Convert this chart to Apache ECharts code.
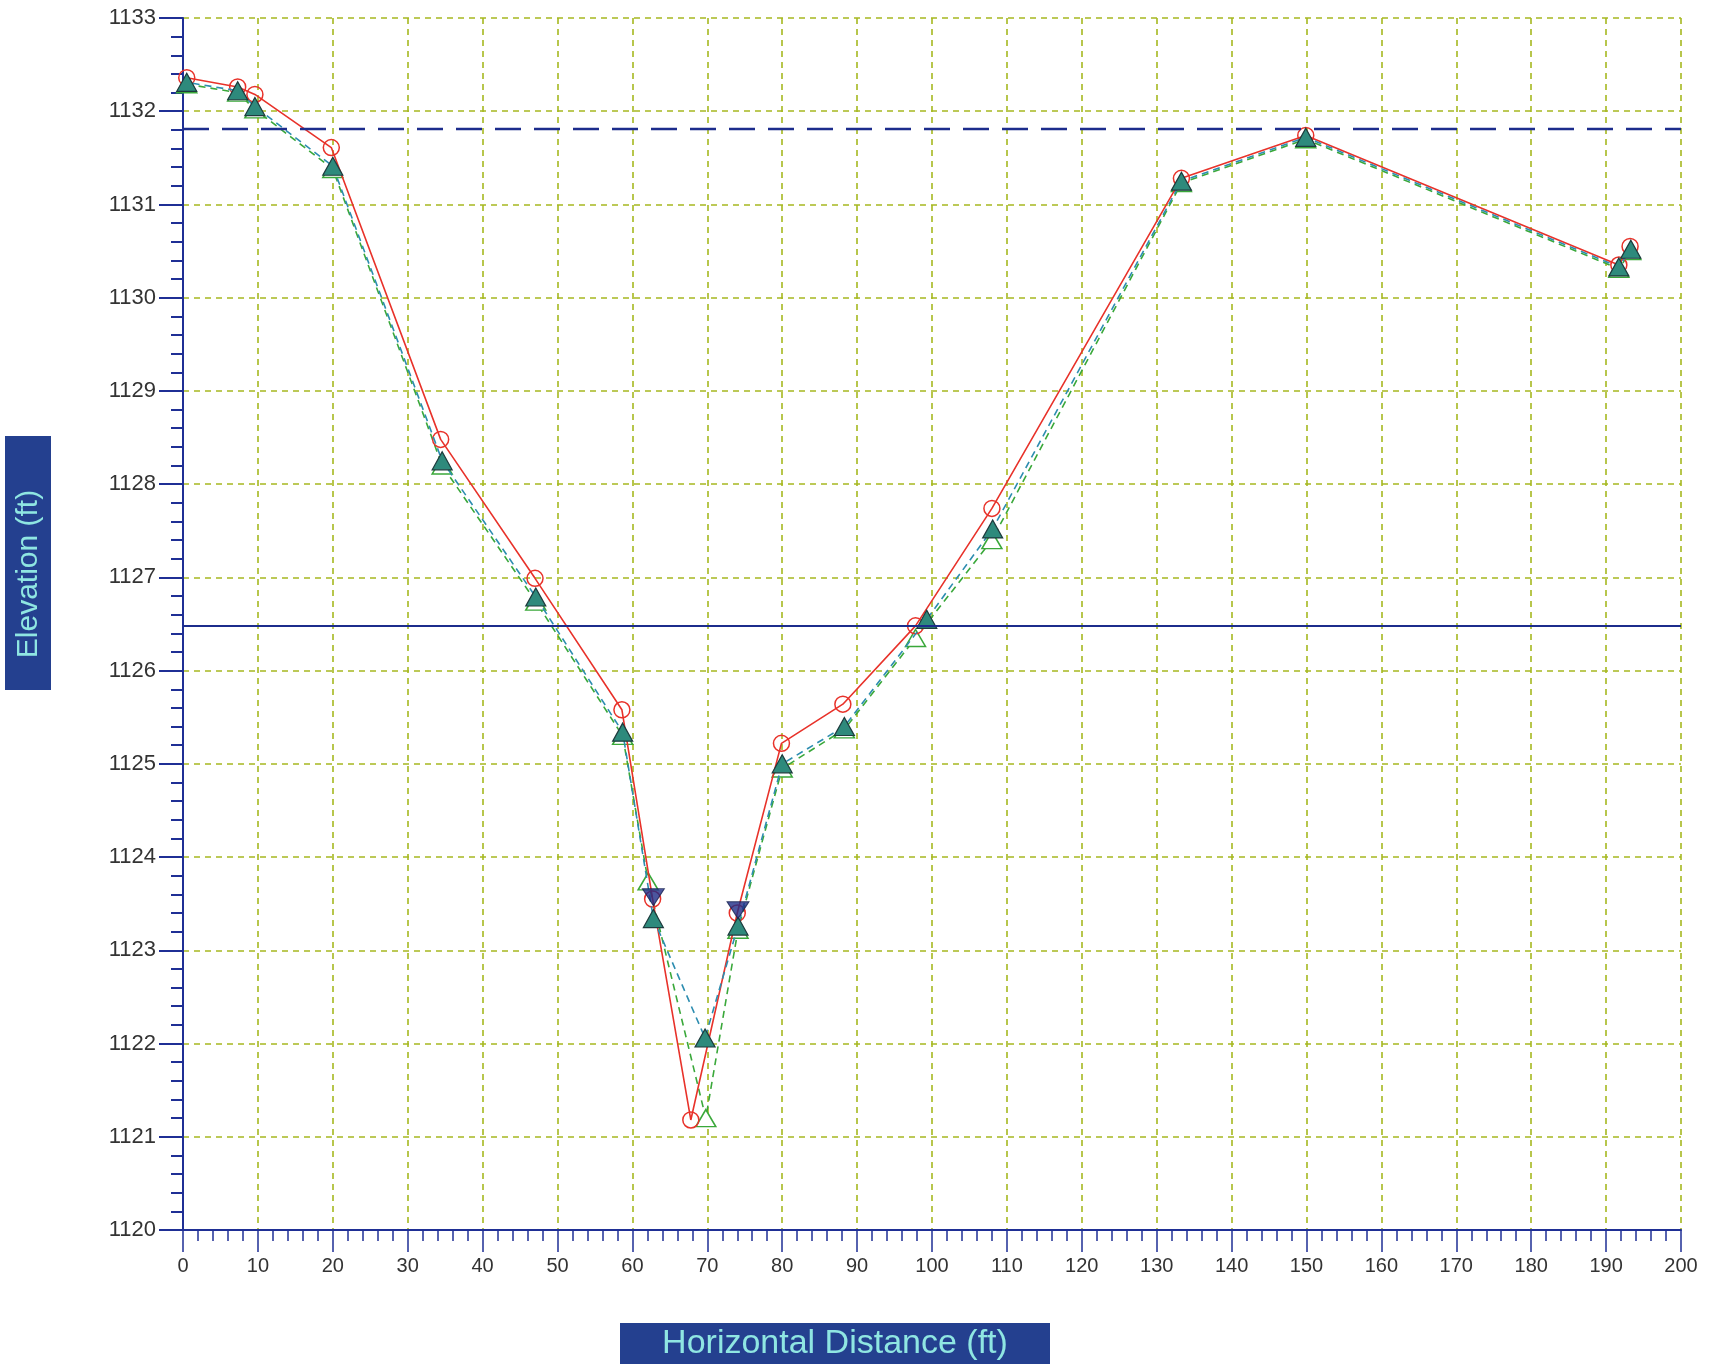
<!DOCTYPE html>
<html><head><meta charset="utf-8">
<script src="https://cdn.jsdelivr.net/npm/echarts@6/dist/echarts.min.js"></script>
<style>html,body{margin:0;padding:0;background:#fff}#c{width:1711px;height:1364px}</style>
</head><body><div id="c"></div>
<script>
// Survey A (red line, open circles)
const redX = [0.5, 7.3, 9.6, 19.8, 34.4, 47.0, 58.6, 62.7, 67.8, 74.0, 79.9, 88.1, 97.8, 108.0, 133.3, 149.9, 191.7, 193.2];
const redY = [1132.36, 1132.26, 1132.18, 1131.61, 1128.48, 1126.99, 1125.58, 1123.55, 1121.18, 1123.40, 1125.22, 1125.64, 1126.48, 1127.74, 1131.28, 1131.74, 1130.35, 1130.55];
// Survey B (teal dashed line, filled triangles)
const tealX = [0.5, 7.3, 9.6, 20.0, 34.6, 47.1, 58.7, 62.8, 69.7, 74.1, 80.0, 88.3, 99.3, 108.1, 133.3, 149.9, 191.7, 193.3];
const tealY = [1132.31, 1132.22, 1132.05, 1131.41, 1128.25, 1126.79, 1125.34, 1123.34, 1122.06, 1123.26, 1125.00, 1125.40, 1126.55, 1127.52, 1131.25, 1131.72, 1130.33, 1130.52];
// Survey C (green dashed line, open triangles)
const greenX = [0.5, 7.3, 9.6, 20.0, 34.6, 47.1, 58.7, 62.1, 69.8, 74.1, 80.0, 88.3, 97.8, 108.0, 133.3, 149.9, 191.7, 193.3];
const greenY = [1132.29, 1132.20, 1132.02, 1131.38, 1128.20, 1126.74, 1125.30, 1123.74, 1121.20, 1123.22, 1124.95, 1125.37, 1126.35, 1127.40, 1131.23, 1131.70, 1130.31, 1130.50];
// Bank markers (inverted navy triangles)
const bankX = [62.8, 74.1];
const bankY = [1123.57, 1123.43];
// Horizontal reference lines
const waterSurface = 1126.48;
const upperLevel = 1131.81;
// Axes
const xMin = 0, xMax = 200, xStep = 10;
const yMin = 1120, yMax = 1133, yStep = 1;
const xTitle = 'Horizontal Distance (ft)';
const yTitle = 'Elevation (ft)';

const pairs = (xs, ys) => xs.map((x, i) => [x, ys[i]]);
const axisCol = '#1f2f95';
const gridCol = '#a6b820';
const labelFont = '"Liberation Sans Narrow", "Liberation Sans", Arial, sans-serif';

const chart = echarts.init(document.getElementById('c'), null, {renderer: 'canvas'});
chart.setOption({
  animation: false,
  backgroundColor: '#ffffff',
  grid: {left: 183, right: 30, top: 18, bottom: 134, containLabel: false},
  xAxis: {
    type: 'value', min: xMin, max: xMax, interval: xStep,
    axisLine: {show: true, onZero: false, lineStyle: {color: axisCol, width: 2}},
    axisTick: {show: true, length: 22, lineStyle: {color: axisCol, width: 1.5}},
    minorTick: {show: true, splitNumber: 5, length: 11, lineStyle: {color: axisCol, width: 1.5}},
    axisLabel: {margin: 26, color: '#333', fontSize: 20, fontFamily: labelFont, formatter: v => String(v)},
    splitLine: {show: true, lineStyle: {color: gridCol, type: [6, 5], width: 1.6}}
  },
  yAxis: {
    type: 'value', min: yMin, max: yMax, interval: yStep,
    axisLine: {show: true, onZero: false, lineStyle: {color: axisCol, width: 2}},
    axisTick: {show: true, length: 24, lineStyle: {color: axisCol, width: 2}},
    minorTick: {show: true, splitNumber: 5, length: 12, lineStyle: {color: axisCol, width: 2}},
    axisLabel: {margin: 27, color: '#333', fontSize: 22, fontFamily: labelFont, formatter: v => String(v)},
    splitLine: {show: true, lineStyle: {color: gridCol, type: [6, 5], width: 1.6}}
  },
  series: [
    {
      name: 'Survey C', type: 'line', data: pairs(greenX, greenY), z: 2,
      symbol: 'triangle', symbolSize: [20, 17],
      itemStyle: {color: '#ffffff', borderColor: '#3aa83a', borderWidth: 1.5},
      lineStyle: {color: '#3aa83a', width: 1.6, type: [7, 5]}
    },
    {
      name: 'Survey A', type: 'line', data: pairs(redX, redY), z: 3,
      symbol: 'circle', symbolSize: 16,
      itemStyle: {color: 'rgba(255,255,255,0)', borderColor: '#e8322a', borderWidth: 1.5},
      lineStyle: {color: '#e8322a', width: 1.6},
      markLine: {
        silent: true, symbol: 'none', label: {show: false},
        data: [
          {yAxis: waterSurface, lineStyle: {color: '#1c2c8c', width: 1.8, type: 'solid'}},
          {yAxis: upperLevel, lineStyle: {color: '#1c2c8c', width: 2.4, type: [26, 13]}}
        ]
      }
    },
    {
      name: 'Survey B', type: 'line', data: pairs(tealX, tealY), z: 4,
      symbol: 'triangle', symbolSize: [20, 18],
      itemStyle: {color: '#2e8a7c', borderColor: '#1d3b3d', borderWidth: 1.2},
      lineStyle: {color: '#2d8db0', width: 1.6, type: [7, 5], dashOffset: 6}
    },
    {
      name: 'Banks', type: 'scatter', data: pairs(bankX, bankY), z: 5,
      symbol: 'triangle', symbolRotate: 180, symbolSize: [22, 17],
      itemStyle: {color: '#1e2c86', borderColor: '#15204f', borderWidth: 1}
    }
  ],
  graphic: [
    {type: 'rect', left: 5, top: 436, shape: {width: 46, height: 254}, style: {fill: '#24408f'}},
    {type: 'text', x: 29, y: 574, rotation: Math.PI / 2,
     style: {text: yTitle, fill: '#8fe6e2', font: '30px "Liberation Sans", Arial, sans-serif', textAlign: 'center', textVerticalAlign: 'middle'}},
    {type: 'rect', left: 620, top: 1323, shape: {width: 430, height: 50}, style: {fill: '#24408f'}},
    {type: 'text', x: 835, y: 1344,
     style: {text: xTitle, fill: '#8fe6e2', font: '34px "Liberation Sans", Arial, sans-serif', textAlign: 'center', textVerticalAlign: 'middle'}}
  ]
});
</script>
</body></html>
